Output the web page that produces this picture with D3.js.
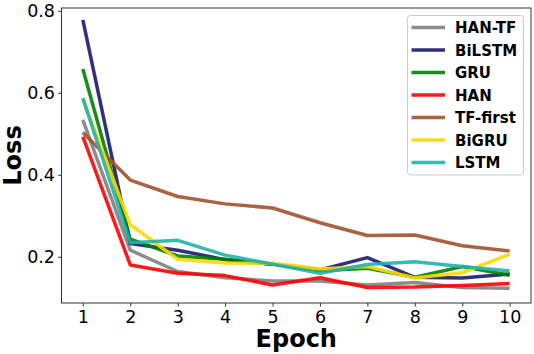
<!DOCTYPE html>
<html>
<head>
<meta charset="utf-8">
<script src="https://cdn.jsdelivr.net/npm/d3@7"></script>
<style>
  body { margin: 0; background: #fff; }
  svg { display: block; font-family: "DejaVu Sans", sans-serif; }
</style>
</head>
<body>
<svg width="534" height="354"></svg>
<script>
var epochs = [1, 2, 3, 4, 5, 6, 7, 8, 9, 10];
var yTicks = [0.2, 0.4, 0.6, 0.8];

var hanTF   = [0.534, 0.216, 0.164, 0.149, 0.141, 0.141, 0.131, 0.137, 0.125, 0.123];
var biLSTM  = [0.778, 0.232, 0.216, 0.193, 0.182, 0.168, 0.198, 0.150, 0.148, 0.158];
var gru     = [0.658, 0.243, 0.202, 0.194, 0.182, 0.166, 0.172, 0.150, 0.176, 0.155];
var han     = [0.493, 0.180, 0.160, 0.154, 0.131, 0.149, 0.125, 0.126, 0.130, 0.135];
var tfFirst = [0.503, 0.387, 0.347, 0.329, 0.319, 0.283, 0.252, 0.253, 0.227, 0.214];
var biGRU   = [0.585, 0.278, 0.194, 0.185, 0.184, 0.170, 0.176, 0.148, 0.161, 0.206];
var lstm    = [0.587, 0.234, 0.240, 0.204, 0.182, 0.160, 0.181, 0.188, 0.176, 0.165];

var series = [
  {name: "HAN-TF",   values: hanTF,   color: "grey"},
  {name: "BiLSTM",   values: biLSTM,  color: "midnightblue"},
  {name: "GRU",      values: gru,     color: "green"},
  {name: "HAN",      values: han,     color: "red"},
  {name: "TF-first", values: tfFirst, color: "sienna"},
  {name: "BiGRU",    values: biGRU,   color: "gold"},
  {name: "LSTM",     values: lstm,    color: "lightseagreen"}
];

var plotL = 61.5, plotR = 531, plotT = 8, plotB = 303;

var x = d3.scaleLinear().domain([0.55, 10.45]).range([plotL, plotR]);
var y = d3.scaleLinear().domain([0.0872, 0.8068]).range([plotB, plotT]);

var svg = d3.select("svg");

var line = d3.line()
    .x((d, i) => x(epochs[i]))
    .y(d => y(d));

svg.selectAll(".series")
    .data(series)
  .enter().append("path")
    .attr("class", "series")
    .attr("d", d => line(d.values))
    .attr("fill", "none")
    .attr("stroke", d => d.color)
    .attr("stroke-opacity", 0.9)
    .attr("stroke-width", 3.5)
    .attr("stroke-linejoin", "round");

// frame
svg.append("rect")
    .attr("x", plotL).attr("y", plotT)
    .attr("width", plotR - plotL).attr("height", plotB - plotT)
    .attr("fill", "none").attr("stroke", "#333").attr("stroke-width", 1);

var xAxis = svg.append("g")
    .attr("transform", "translate(0," + plotB + ")")
    .call(d3.axisBottom(x).tickValues(epochs).tickSize(3.5).tickPadding(4).tickFormat(d3.format("d")));
xAxis.select(".domain").remove();
xAxis.attr("font-size", 17.5).attr("font-family", "DejaVu Sans");
xAxis.selectAll("text").attr("fill", "#000");
xAxis.selectAll("line").attr("stroke", "#333");

var yAxis = svg.append("g")
    .attr("transform", "translate(" + plotL + ",0)")
    .call(d3.axisLeft(y).tickValues(yTicks).tickSize(3.5).tickPadding(3).tickFormat(d3.format(".1f")));
yAxis.select(".domain").remove();
yAxis.attr("font-size", 17.5).attr("font-family", "DejaVu Sans");
yAxis.selectAll("text").attr("fill", "#000");
yAxis.selectAll("line").attr("stroke", "#333");

svg.append("text")
    .attr("x", (plotL + plotR) / 2).attr("y", 347)
    .attr("text-anchor", "middle")
    .attr("font-size", 24).attr("font-weight", "bold")
    .text("Epoch");

svg.append("text")
    .attr("transform", "translate(21," + ((plotT + plotB) / 2) + ") rotate(-90)")
    .attr("text-anchor", "middle")
    .attr("font-size", 24).attr("font-weight", "bold")
    .text("Loss");

// legend
var legend = svg.append("g");
legend.append("rect")
    .attr("x", 407.5).attr("y", 15.5)
    .attr("width", 116).attr("height", 159.5)
    .attr("rx", 3)
    .attr("fill", "#fff").attr("fill-opacity", 0.8)
    .attr("stroke", "#ccc").attr("stroke-width", 1);

var item = legend.selectAll(".item")
    .data(series)
  .enter().append("g")
    .attr("class", "item")
    .attr("transform", (d, i) => "translate(0," + (27.5 + i * 22.5) + ")");

item.append("line")
    .attr("x1", 411.5).attr("x2", 445)
    .attr("stroke", d => d.color)
    .attr("stroke-opacity", 0.9)
    .attr("stroke-width", 3.5);

item.append("text")
    .attr("x", 455).attr("y", 5.5)
    .attr("font-size", 15).attr("font-weight", "bold")
    .text(d => d.name);
</script>
</body>
</html>
